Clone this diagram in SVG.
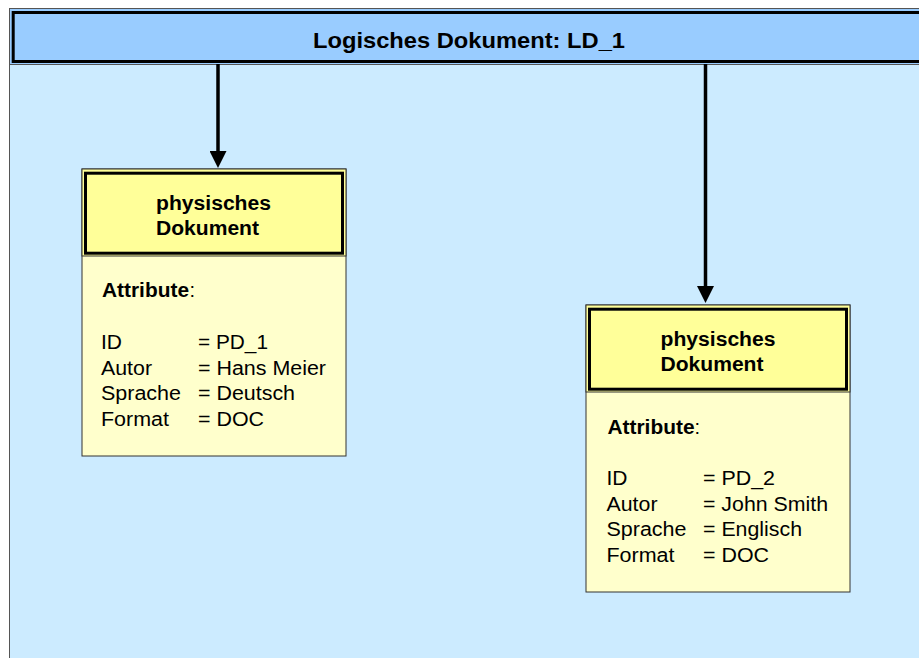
<svg xmlns="http://www.w3.org/2000/svg" width="919" height="658" viewBox="0 0 919 658">
<style>
  .t { font-family: "Liberation Sans", Arial, sans-serif; fill: #000; }
  .b { font-weight: bold; }
  .hdr { font-size: 22px; }
  .tt { font-size: 20px; }
  .box { fill: #FFFFCC; stroke: #333; stroke-width: 1; }
  .ttl { fill: #FFFF99; stroke: #333; stroke-width: 1; }
  .thick { fill: none; stroke: #000; stroke-width: 3; }
  .conn { stroke: #000; stroke-width: 3.5; fill: none; }
</style>
<defs>
  <marker id="ah" markerUnits="userSpaceOnUse" markerWidth="17" markerHeight="17" viewBox="0 0 17 17" refX="4" refY="8.5" orient="auto">
    <path d="M0,0 L17,8.5 L0,17 z" fill="#000"/>
  </marker>
</defs>
<rect x="0" y="0" width="919" height="658" fill="#FFFFFF"/>
<g id="logisches-dokument">
  <rect x="9.5" y="8.5" width="920" height="660" fill="#CCEBFF" stroke="#555" stroke-width="1"/>
  <rect x="9.5" y="8.5" width="920" height="56" fill="#99CCFF" stroke="#555" stroke-width="1"/>
  <rect x="13.2" y="12.5" width="920" height="49" class="thick"/>
  <text class="t b hdr" x="313" y="48" textLength="312" lengthAdjust="spacingAndGlyphs">Logisches Dokument: LD_1</text>
</g>
<g id="connectors">
  <line x1="218" y1="64" x2="218" y2="155" class="conn" marker-end="url(#ah)"/>
  <line x1="705.5" y1="64" x2="705.5" y2="290" class="conn" marker-end="url(#ah)"/>
</g>
<g id="pd1">
  <rect x="82" y="169" width="264" height="287" class="box"/>
  <rect x="82" y="169" width="264" height="87" class="ttl"/>
  <rect x="85.5" y="173.2" width="257" height="80" class="thick"/>
  <text class="t b tt" x="156" y="210" textLength="115" lengthAdjust="spacingAndGlyphs">physisches</text>
  <text class="t b tt" x="156" y="235" textLength="103" lengthAdjust="spacingAndGlyphs">Dokument</text>
  <text class="t b tt" x="102" y="297" textLength="87" lengthAdjust="spacingAndGlyphs">Attribute</text>
  <text class="t tt" x="189.5" y="297">:</text>
  <text class="t tt" x="101" y="349" textLength="21" lengthAdjust="spacingAndGlyphs">ID</text>
  <text class="t tt" x="101" y="374.5" textLength="51" lengthAdjust="spacingAndGlyphs">Autor</text>
  <text class="t tt" x="101" y="400" textLength="80" lengthAdjust="spacingAndGlyphs">Sprache</text>
  <text class="t tt" x="101" y="425.5" textLength="68" lengthAdjust="spacingAndGlyphs">Format</text>
  <text class="t tt" x="198" y="349" textLength="70" lengthAdjust="spacingAndGlyphs">= PD_1</text>
  <text class="t tt" x="198" y="374.5" textLength="128" lengthAdjust="spacingAndGlyphs">= Hans Meier</text>
  <text class="t tt" x="198" y="400" textLength="97" lengthAdjust="spacingAndGlyphs">= Deutsch</text>
  <text class="t tt" x="198" y="425.5" textLength="66" lengthAdjust="spacingAndGlyphs">= DOC</text>
</g>
<g id="pd2">
  <rect x="586" y="305" width="264" height="287" class="box"/>
  <rect x="586" y="305" width="264" height="87" class="ttl"/>
  <rect x="589.5" y="309.2" width="257" height="80" class="thick"/>
  <text class="t b tt" x="660.5" y="346" textLength="115" lengthAdjust="spacingAndGlyphs">physisches</text>
  <text class="t b tt" x="660.5" y="371" textLength="103" lengthAdjust="spacingAndGlyphs">Dokument</text>
  <text class="t b tt" x="607.5" y="433.5" textLength="87" lengthAdjust="spacingAndGlyphs">Attribute</text>
  <text class="t tt" x="694.5" y="433.5">:</text>
  <text class="t tt" x="606.5" y="485" textLength="21" lengthAdjust="spacingAndGlyphs">ID</text>
  <text class="t tt" x="606.5" y="510.5" textLength="51" lengthAdjust="spacingAndGlyphs">Autor</text>
  <text class="t tt" x="606.5" y="536" textLength="80" lengthAdjust="spacingAndGlyphs">Sprache</text>
  <text class="t tt" x="606.5" y="561.5" textLength="68" lengthAdjust="spacingAndGlyphs">Format</text>
  <text class="t tt" x="703" y="485" textLength="72" lengthAdjust="spacingAndGlyphs">= PD_2</text>
  <text class="t tt" x="703" y="510.5" textLength="125" lengthAdjust="spacingAndGlyphs">= John Smith</text>
  <text class="t tt" x="703" y="536" textLength="99" lengthAdjust="spacingAndGlyphs">= Englisch</text>
  <text class="t tt" x="703" y="561.5" textLength="66" lengthAdjust="spacingAndGlyphs">= DOC</text>
</g>
</svg>
